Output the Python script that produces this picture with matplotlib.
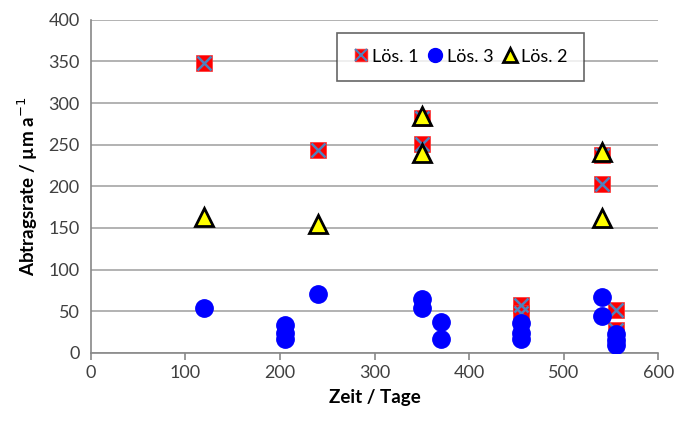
import matplotlib.pyplot as plt
from matplotlib.lines import Line2D

plt.rcParams['font.family'] = ['Lato', 'DejaVu Sans']

# Lös. 1 (rote Quadrate mit Kreuz)
t1 = [120, 240, 350, 350, 455, 455, 540, 540, 555, 555]
r1 = [348, 244, 282, 251, 57, 48, 238, 203, 52, 27]
# Lös. 3 (blaue Kreise)
t3 = [120, 205, 205, 205, 240, 350, 350, 370, 370, 455, 455, 455, 540, 540, 555, 555, 555]
r3 = [54, 33, 24, 17, 71, 65, 54, 37, 16, 36, 24, 16, 67, 44, 22, 15, 9]
# Lös. 2 (gelbe Dreiecke)
t2 = [120, 240, 350, 350, 540, 540]
r2 = [163, 155, 284, 240, 241, 162]

fig = plt.figure(figsize=(6.78, 4.23), dpi=100)
ax = fig.add_axes([0.134, 0.166, 0.837, 0.787])

ax.plot(t1, r1, ls='none', marker='s', ms=11.5, mfc='#ff0000', mec='#ff3030', mew=0.5, zorder=3)
ax.plot(t1, r1, ls='none', marker='x', ms=10, mec='#4f81bd', mew=1.8, zorder=3)
ax.plot(t3, r3, ls='none', marker='o', ms=12.5, mfc='#0000ff', mec='#0000ff', zorder=4)
ax.plot(t2, r2, ls='none', marker='^', ms=12.5, mfc='#ffff00', mec='black', mew=2, zorder=5)

ax.set_xlim(0, 600)
ax.set_ylim(0, 400)
ax.set_xticks(range(0, 601, 100))
ax.set_yticks(range(0, 401, 50))
ax.grid(axis='y', color='#a6a6a6', lw=1.2)
ax.set_axisbelow(True)
for s in ['top', 'right']:
    ax.spines[s].set_visible(False)
for s in ['left', 'bottom']:
    ax.spines[s].set_color('#888888')
    ax.spines[s].set_linewidth(1.2)
ax.tick_params(axis='both', labelsize=13, colors='#888888', labelcolor='#404040', length=5, width=1.2)
ax.tick_params(axis='y', length=0, pad=8)

ax.set_xlabel('Zeit / Tage', fontsize=13.5, fontweight='bold', labelpad=6)
ax.set_ylabel('Abtragsrate / µm a$^{-1}$', fontsize=13.5, fontweight='bold', labelpad=6)

h1 = (Line2D([], [], ls='none', marker='s', ms=9, mfc='#ff0000', mec='#ff3030'),
      Line2D([], [], ls='none', marker='x', ms=8, mec='#4f81bd', mew=1.5))
h3 = Line2D([], [], ls='none', marker='o', ms=10, mfc='#0000ff', mec='#0000ff')
h2 = Line2D([], [], ls='none', marker='^', ms=10, mfc='#ffff00', mec='black', mew=2)
leg = ax.legend([h1, h3, h2], ['Lös. 1', 'Lös. 3', 'Lös. 2'], ncol=3, loc='upper left',
                bbox_to_anchor=(0.434, 0.962), fontsize=13, frameon=True, fancybox=False,
                handlelength=0.8, handletextpad=0.25, columnspacing=0.5, borderpad=0.9,
                borderaxespad=0, edgecolor='#404040')
leg.get_frame().set_linewidth(1.2)

fig.savefig('out.png', dpi=100)
